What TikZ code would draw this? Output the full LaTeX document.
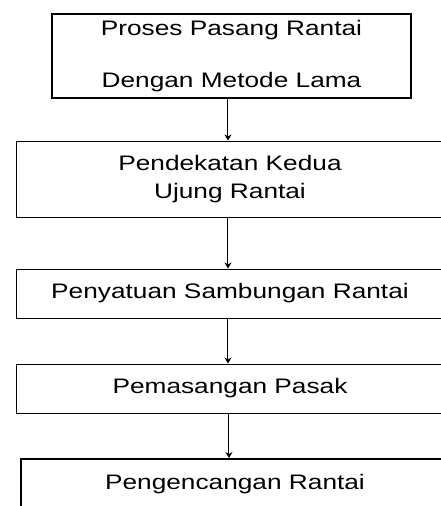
\documentclass[tikz,border=0pt]{standalone}
\usepackage{fontspec}
\setmainfont{Liberation Sans}[FakeStretch=1.25]
\usetikzlibrary{arrows.meta}

\begin{document}
\begin{tikzpicture}[x=1pt,y=-1pt,
  langkah/.style={draw,line width=1pt,inner sep=0pt,align=center,
    font=\fontsize{21}{25}\selectfont},
  panah/.style={draw,double,double distance=0.9pt,line width=0.7pt,
    -{Stealth[length=6pt,width=7pt]}}]
\clip (0,0) rectangle (441,506);
\node[langkah,minimum width=359pt,minimum height=84pt,line width=1.5pt] (b1) at (231.5,56)
  {Proses Pasang Rantai\\[27pt]Dengan Metode Lama};
\node[langkah,minimum width=428pt,minimum height=76pt] (b2) at (230,179)
  {Pendekatan Kedua\\[3pt]Ujung Rantai};
\node[langkah,minimum width=428pt,minimum height=49pt] (b3) at (230,293.5)
  {Penyatuan Sambungan Rantai};
\node[langkah,minimum width=428pt,minimum height=49pt] (b4) at (230,388.5)
  {Pemasangan Pasak};
\node[langkah,minimum width=428pt,anchor=north,text height=15pt,
  text depth=45pt,inner ysep=16pt,line width=1.5pt] (b5) at (235,458)
  {Pengencangan Rantai};
\draw[panah] ([xshift=-3.5pt]b1.south) -- ([xshift=-3.5pt]b1.south |- b2.north);
\draw[panah] ([xshift=-2pt]b2.south) -- ([xshift=-2pt]b2.south |- b3.north);
\draw[panah] ([xshift=-2pt]b3.south) -- ([xshift=-2pt]b3.south |- b4.north);
\draw[panah] ([xshift=-1pt]b4.south) -- ([xshift=-1pt]b4.south |- b5.north);
\end{tikzpicture}
\end{document}
